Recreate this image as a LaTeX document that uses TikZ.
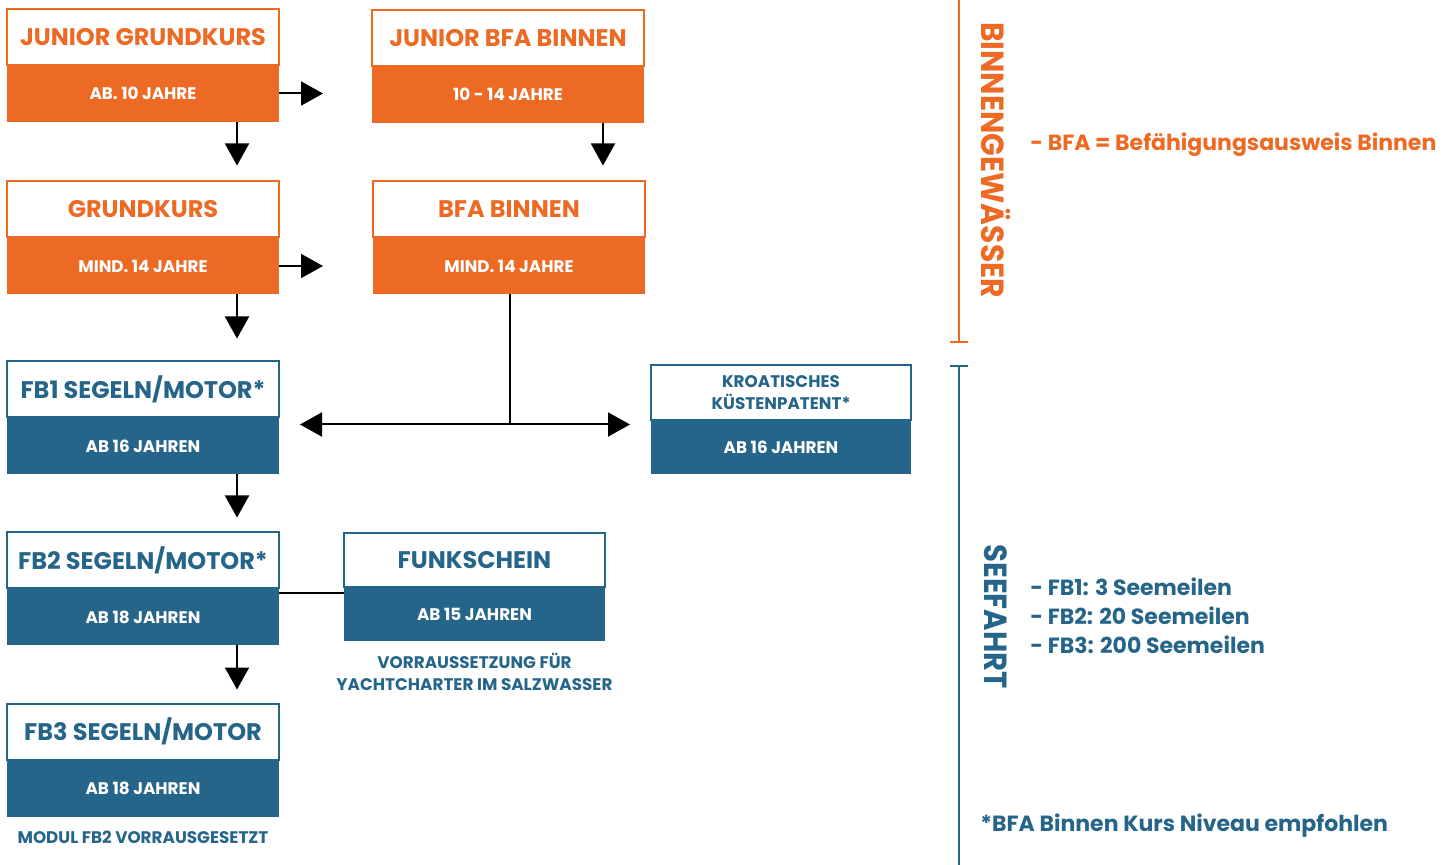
\documentclass[tikz,border=0pt]{standalone}
\usepackage{fontspec}
\setmainfont{Poppins}
\usetikzlibrary{arrows.meta,calc,positioning}

\definecolor{kursorange}{RGB}{237,106,36}
\definecolor{kursblue}{RGB}{38,101,138}

\newcommand\boxtitlefont{\fontsize{12}{14}\selectfont\bfseries}
\newcommand\boxagefont{\fontsize{8.4}{10}\selectfont\bfseries}
\newcommand\notefont{\fontsize{8.4}{11}\selectfont\bfseries}
\newcommand\sidefont{\fontsize{11}{14.5}\selectfont\bfseries}
\newcommand\areafont{\fontsize{16}{19}\selectfont\bfseries}

\tikzset{
  kurstitle/.style={draw, line width=1pt, fill=white, minimum width=136pt, minimum height=28pt,
    inner sep=0pt, outer sep=0pt, align=center, font=\boxtitlefont},
  kursage/.style={minimum width=136pt, minimum height=28.5pt, inner sep=0pt, outer sep=0pt,
    text=white, font=\boxagefont},
  otitle/.style={kurstitle, draw=kursorange, text=kursorange},
  oage/.style={kursage, fill=kursorange},
  btitle/.style={kurstitle, draw=kursblue, text=kursblue},
  bage/.style={kursage, fill=kursblue},
  arr/.style={-{Triangle[length=11pt,width=12pt]}, line width=1pt},
}

\begin{document}
\begin{tikzpicture}[x=0.5pt,y=-0.5pt]
\useasboundingbox (0,0) rectangle (1451,865);

% Binnen
\node[otitle] (jgk) at (143,37) {JUNIOR GRUNDKURS};
\node[oage, below=0pt of jgk] (jgkAge) {AB. 10 JAHRE};
\node[otitle] (jbfa) at (508,38) {JUNIOR BFA BINNEN};
\node[oage, below=0pt of jbfa] (jbfaAge) {10 - 14 JAHRE};
\node[otitle] (gk) at (143,209.5) {GRUNDKURS};
\node[oage, below=0pt of gk] (gkAge) {MIND. 14 JAHRE};
\node[otitle] (bfa) at (509,209.5) {BFA BINNEN};
\node[oage, below=0pt of bfa] (bfaAge) {MIND. 14 JAHRE};

% See
\node[btitle] (fb1) at (143,389.5) {FB1 SEGELN/MOTOR*};
\node[bage, below=0pt of fb1] (fb1Age) {AB 16 JAHREN};
\node[btitle, minimum width=130pt, minimum height=27.5pt, font=\boxagefont]
  (kroat) at (781,392.5) {KROATISCHES\\[1pt]KÜSTENPATENT*};
\node[bage, below=0pt of kroat, minimum width=130pt, minimum height=27pt] (kroatAge) {AB 16 JAHREN};
\node[btitle] (fb2) at (143,560.5) {FB2 SEGELN/MOTOR*};
\node[bage, below=0pt of fb2] (fb2Age) {AB 18 JAHREN};
\node[btitle, minimum width=130.5pt, minimum height=27pt] (funk) at (474.5,560) {FUNKSCHEIN};
\node[bage, below=0pt of funk, minimum width=130.5pt, minimum height=27pt] (funkAge) {AB 15 JAHREN};
\node[btitle] (fb3) at (143,731.5) {FB3 SEGELN/MOTOR};
\node[bage, below=0pt of fb3] (fb3Age) {AB 18 JAHREN};

% Hinweise
\node[text=kursblue, font=\notefont, below=3.5pt of fb3Age] (fb3Note) {MODUL FB2 VORRAUSGESETZT};
\node[text=kursblue, font=\notefont, align=center, below=2.5pt of funkAge] (funkNote)
  {VORRAUSSETZUNG FÜR\\YACHTCHARTER IM SALZWASSER};

% Pfeile
\draw[arr, shorten >=24.5pt] (jgkAge.east) -- (jgkAge.east -| jbfaAge.west);
\draw[arr, shorten >=8pt] ([xshift=47pt]jgkAge.south) -- ([xshift=47pt]gk.north);
\draw[arr, shorten >=8pt] ([xshift=47.5pt]jbfaAge.south) -- ([xshift=47.5pt]jbfaAge.south |- bfa.north);
\draw[arr, shorten >=25pt] (gkAge.east) -- (gkAge.east -| bfaAge.west);
\draw[arr, shorten >=11.5pt] ([xshift=47pt]gkAge.south) -- ([xshift=47pt]fb1.north);
\path (bfaAge.south) ++(1,130) coordinate (split);
\draw[line width=1pt] (split |- bfaAge.south) -- (split);
\draw[arr, shorten >=10.5pt] (split) -- (split -| fb1Age.east);
\draw[arr, shorten >=10.5pt] (split) -- (split -| kroatAge.west);
\draw[arr, shorten >=7.5pt] ([xshift=47pt]fb1Age.south) -- ([xshift=47pt]fb2.north);
\path (fb2Age.north east) ++(0,5) coordinate (funkJoin);
\draw[line width=1pt] (funkJoin) -- (funkJoin -| funkAge.west);
\draw[arr, shorten >=7pt] ([xshift=47pt]fb2Age.south) -- ([xshift=47pt]fb3.north);

% Bereiche rechts
\draw[kursorange, line width=1pt] (959,0) -- (959,342) (950,342) -- (968,342);
\draw[kursblue, line width=1pt] (959,865) -- (959,366) (950,366) -- (968,366);
\node[text=kursorange, font=\areafont, rotate=-90] (binnen) at (996,160) {\scalebox{0.93}[1]{BINNENGEWÄSSER}};
\node[text=kursblue, font=\areafont, rotate=-90] (seefahrt) at (996,616.5) {\scalebox{0.91}[1]{SEEFAHRT}};
\node[text=kursorange, font=\sidefont, anchor=west, inner sep=0pt] (bfaDef) at (1030,145) {- BFA = Befähigungsausweis Binnen};
\node[text=kursblue, font=\sidefont, anchor=north west, align=left, inner sep=0pt] (fbList) at (1030,577)
  {- FB1: 3 Seemeilen\\- FB2: 20 Seemeilen\\- FB3: 200 Seemeilen};
\node[text=kursblue, font=\sidefont, anchor=west, inner sep=0pt] (stern) at (980,826) {*BFA Binnen Kurs Niveau empfohlen};

\end{tikzpicture}
\end{document}
